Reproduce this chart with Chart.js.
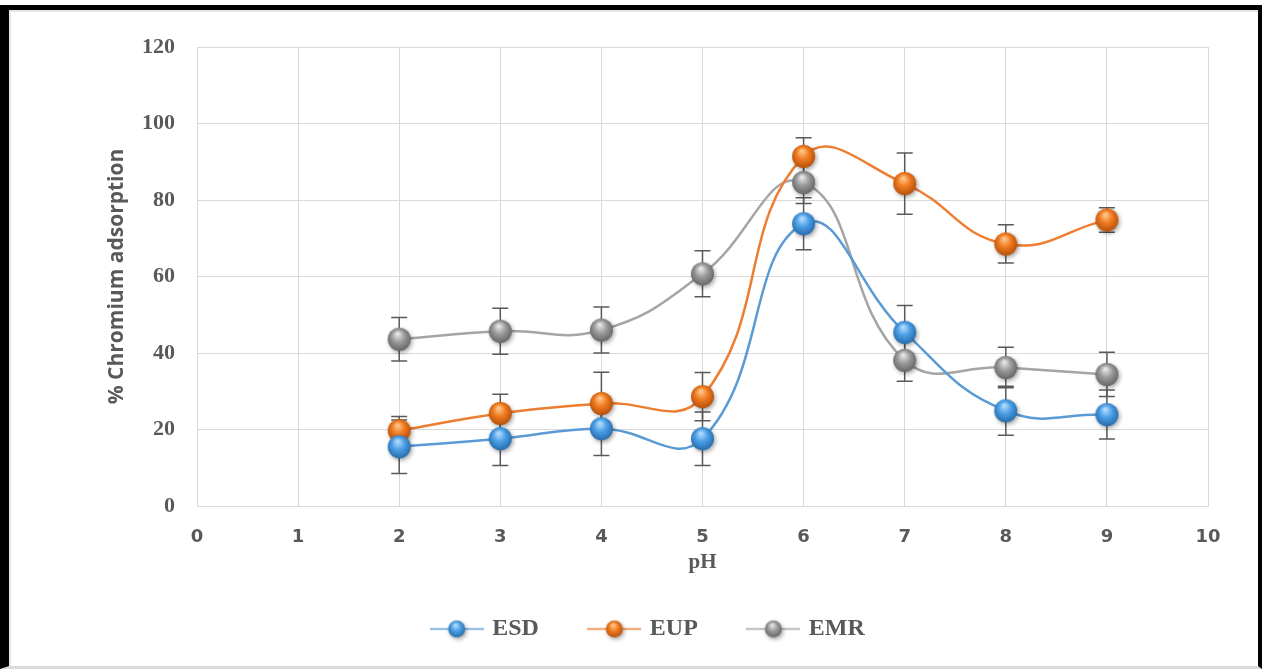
<!DOCTYPE html>
<html>
<head>
<meta charset="utf-8">
<script src="https://cdn.jsdelivr.net/npm/chart.js@4.4.1/dist/chart.umd.min.js"></script>
<style>
  html, body { margin: 0; padding: 0; background: #fff; }
  #frame {
    position: absolute; left: 0; top: 5px; width: 1262px; height: 664px;
    box-sizing: border-box;
    border-left: 9px solid #000; border-top: 5px solid #000;
    border-right: 4px solid #000; border-bottom: 3px solid #d9d9d9;
  }
  #frame::after {
    content: ""; position: absolute; left: 0; top: 0; right: 0; bottom: 0;
    border-left: 2px solid #e6e6e6; border-top: 2px solid #e6e6e6;
  }
  #wrap { position: absolute; left: 0; top: 0; width: 1262px; height: 669px; }
</style>
</head>
<body>
<div id="frame"></div>
<div id="wrap"><canvas id="phChart" width="1262" height="669"></canvas></div>
<script>
// pH values (x axis)
const phValues = [2, 3, 4, 5, 6, 7, 8, 9];

// % chromium adsorption per adsorbent
const esdValues = [15.5, 17.6, 20.2, 17.6, 73.8, 45.4, 24.9, 23.9];
const eupValues = [19.7, 24.2, 26.8, 28.6, 91.4, 84.3, 68.5, 74.8];
const emrValues = [43.6, 45.7, 46.0, 60.7, 84.6, 38.1, 36.2, 34.4];

// error bar half-lengths (+/-)
const esdErrors = [7.0, 7.0, 7.0, 7.0, 6.8, 7.0, 6.4, 6.4];
const eupErrors = [3.7, 5.0, 8.2, 6.3, 4.9, 8.0, 5.0, 3.2];
const emrErrors = [5.7, 6.0, 6.0, 6.0, 5.5, 5.5, 5.3, 5.8];

const seriesNames = ["ESD", "EUP", "EMR"];

// axis ticks
const xTicks = [0, 1, 2, 3, 4, 5, 6, 7, 8, 9, 10];
const yTicks = [0, 20, 40, 60, 80, 100, 120];

const TEXT_GREY = "#595959";

/**
 * Helper: shaded sphere marker drawn on a small canvas
 */
function makeSphere(r, light, base, dark, lineColor, width) {
  const pad = 6;
  const c = document.createElement("canvas");
  c.width = width || (r * 2 + pad * 2);
  c.height = r * 2 + pad * 2;
  const g = c.getContext("2d");
  const cx = c.width / 2, cy = c.height / 2;
  if (lineColor) {
    g.strokeStyle = lineColor;
    g.lineWidth = 1.5;
    g.beginPath();
    g.moveTo(0, cy);
    g.lineTo(c.width, cy);
    g.stroke();
  }
  g.save();
  g.shadowColor = "rgba(0,0,0,0.35)";
  g.shadowBlur = 4;
  g.shadowOffsetX = 1.5;
  g.shadowOffsetY = 2;
  const grad = g.createRadialGradient(cx - r * 0.15, cy - r * 0.5, 0, cx, cy, r * 1.25);
  grad.addColorStop(0, light);
  grad.addColorStop(0.45, base);
  grad.addColorStop(1, dark);
  g.fillStyle = grad;
  g.beginPath();
  g.arc(cx, cy, r, 0, Math.PI * 2);
  g.fill();
  g.restore();
  return c;
}

const palette = [
  { line: "#5B9BD5", light: "#bfe4ff", base: "#4a9ee6", dark: "#1d5c96" },
  { line: "#ED7D31", light: "#ffd19a", base: "#f07a1e", dark: "#a34408" },
  { line: "#A5A5A5", light: "#f0f0f0", base: "#9a9a9a", dark: "#555555" },
];

const pointImages = palette.map(p => makeSphere(11.5, p.light, p.base, p.dark));
const legendImages = palette.map(p => makeSphere(8.5, p.light, p.base, p.dark, p.line, 54));

const allValues = [esdValues, eupValues, emrValues];
const allErrors = [esdErrors, eupErrors, emrErrors];

/**
 * Plugin: vertical error bars with caps
 */
const errorBarPlugin = {
  id: "errorBars",
  beforeDatasetsDraw(chart) {
    const { ctx, scales: { x, y } } = chart;
    ctx.save();
    ctx.strokeStyle = TEXT_GREY;
    ctx.lineWidth = 1.5;
    allValues.forEach((vals, i) => {
      vals.forEach((v, j) => {
        const px = x.getPixelForValue(phValues[j]);
        const top = y.getPixelForValue(v + allErrors[i][j]);
        const bot = y.getPixelForValue(v - allErrors[i][j]);
        ctx.beginPath();
        ctx.moveTo(px, top); ctx.lineTo(px, bot);
        ctx.moveTo(px - 8, top); ctx.lineTo(px + 8, top);
        ctx.moveTo(px - 8, bot); ctx.lineTo(px + 8, bot);
        ctx.stroke();
      });
    });
    ctx.restore();
  },
};

function buildDataset(i) {
  return {
    label: seriesNames[i],
    data: phValues.map((p, j) => ({ x: p, y: allValues[i][j] })),
    borderColor: palette[i].line,
    backgroundColor: palette[i].base,
    borderWidth: 2.5,
    tension: 0.45,
    pointStyle: pointImages[i],
    pointRadius: 12,
    pointHoverRadius: 12,
    fill: false,
  };
}

const ctx = document.getElementById("phChart").getContext("2d");
new Chart(ctx, {
  type: "line",
  data: { datasets: [0, 1, 2].map(buildDataset) },
  plugins: [errorBarPlugin],
  options: {
    responsive: false,
    animation: false,
    layout: { padding: { left: 90, top: 47, right: 54, bottom: 18 } },
    plugins: {
      tooltip: { enabled: false },
      legend: {
        position: "bottom",
        labels: {
          usePointStyle: true,
          pointStyleWidth: 47,
          padding: 52,
          color: TEXT_GREY,
          font: { family: "'Liberation Serif', serif", weight: "bold", size: 24 },
          generateLabels(chart) {
            return chart.data.datasets.map((ds, i) => ({
              text: ds.label,
              pointStyle: legendImages[i],
              fillStyle: ds.backgroundColor,
              strokeStyle: ds.borderColor,
              lineWidth: 0,
              fontColor: TEXT_GREY,
              datasetIndex: i,
              hidden: false,
            }));
          },
        },
      },
    },
    scales: {
      x: {
        type: "linear",
        min: xTicks[0],
        max: xTicks[xTicks.length - 1],
        afterBuildTicks(axis) { axis.ticks = xTicks.map(v => ({ value: v })); },
        afterFit(axis) { axis.height = 59; },
        grid: { color: "#d9d9d9", lineWidth: 1, drawTicks: false },
        border: { color: "#d9d9d9" },
        ticks: {
          padding: 21,
          color: TEXT_GREY,
          font: { family: "'DejaVu Sans', sans-serif", weight: "bold", size: 18 },
        },
        title: {
          display: true,
          text: "pH",
          color: TEXT_GREY,
          padding: { top: 0, bottom: -10 },
          font: { family: "'Liberation Serif', serif", weight: "bold", size: 21 },
        },
      },
      y: {
        min: yTicks[0],
        max: yTicks[yTicks.length - 1],
        afterBuildTicks(axis) { axis.ticks = yTicks.map(v => ({ value: v })); },
        afterFit(axis) { axis.width = 107; },
        grid: { color: "#d9d9d9", lineWidth: 1, drawTicks: false },
        border: { color: "#d9d9d9" },
        ticks: {
          padding: 22,
          color: TEXT_GREY,
          font: { family: "'Liberation Serif', serif", weight: "bold", size: 22 },
        },
        title: {
          display: true,
          text: "% Chromium adsorption",
          color: TEXT_GREY,
          padding: { top: 14, bottom: 0 },
          font: { family: "'Open Sans', sans-serif", weight: "bold", size: 21 },
        },
      },
    },
  },
});
</script>
</body>
</html>
